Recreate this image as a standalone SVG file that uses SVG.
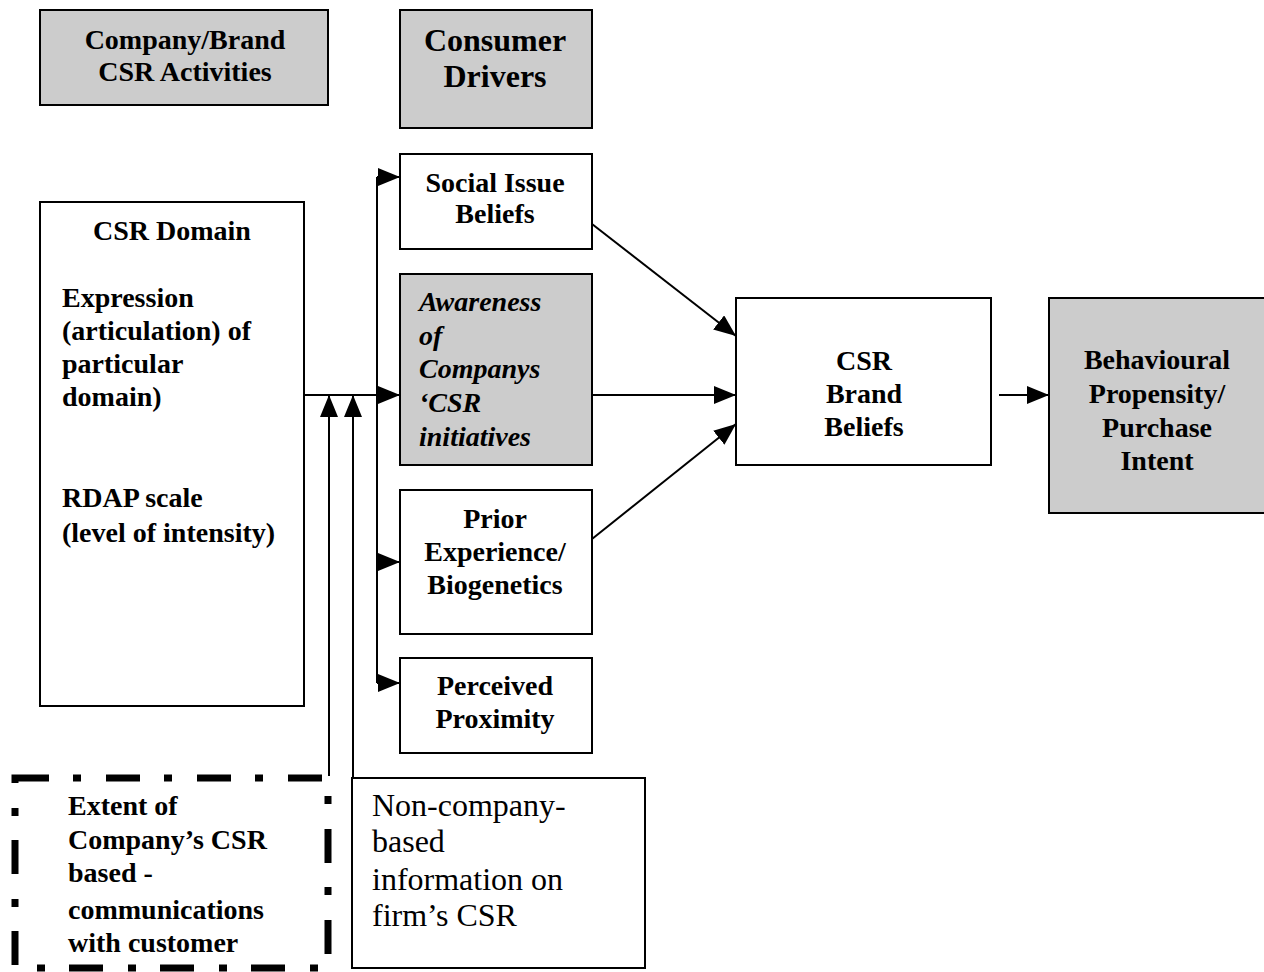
<svg xmlns="http://www.w3.org/2000/svg" width="1264" height="972" viewBox="0 0 1264 972">
<style>
.box{fill:#fff;stroke:#000;stroke-width:2}
.grey{fill:#cccccc;stroke:#000;stroke-width:2}
.t{font-family:"Liberation Serif","Times New Roman",serif;font-weight:bold;font-size:28px;fill:#000}
.c{text-anchor:middle}
.i{font-style:italic}
.r{font-weight:normal;font-size:32px}
.ln{stroke:#000;stroke-width:2;fill:none}
</style>
<defs>
<marker id="ah" markerWidth="22" markerHeight="18" refX="22" refY="9" orient="auto" markerUnits="userSpaceOnUse">
<path d="M0,0 L22,9 L0,18 Z" fill="#000"/>
</marker>
</defs>
<rect width="1264" height="972" fill="#fff"/>
<g id="company-brand">
<rect class="grey" x="40" y="10" width="288" height="95"/>
<text class="t c" x="185" y="49">Company/Brand</text>
<text class="t c" x="185" y="81">CSR Activities</text>
</g>
<g id="consumer-drivers">
<rect class="grey" x="400" y="10" width="192" height="118"/>
<text class="t c" x="495" y="51" style="font-size:32px">Consumer</text>
<text class="t c" x="495" y="87" style="font-size:32px">Drivers</text>
</g>
<g id="csr-domain">
<rect class="box" x="40" y="202" width="264" height="504"/>
<text class="t c" x="172" y="240">CSR Domain</text>
<text class="t" x="62" y="307">Expression</text>
<text class="t" x="62" y="340">(articulation) of</text>
<text class="t" x="62" y="373">particular</text>
<text class="t" x="62" y="406">domain)</text>
<text class="t" x="62" y="507">RDAP scale</text>
<text class="t" x="62" y="542">(level of intensity)</text>
</g>
<g id="social-issue">
<rect class="box" x="400" y="154" width="192" height="95"/>
<text class="t c" x="495" y="192">Social Issue</text>
<text class="t c" x="495" y="223">Beliefs</text>
</g>
<g id="awareness">
<rect class="grey" x="400" y="274" width="192" height="191"/>
<text class="t i" x="419" y="311">Awareness</text>
<text class="t i" x="419" y="345">of</text>
<text class="t i" x="419" y="378">Companys</text>
<text class="t i" x="419" y="412">‘CSR</text>
<text class="t i" x="419" y="446">initiatives</text>
</g>
<g id="prior-experience">
<rect class="box" x="400" y="490" width="192" height="144"/>
<text class="t c" x="495" y="528">Prior</text>
<text class="t c" x="495" y="561">Experience/</text>
<text class="t c" x="495" y="594">Biogenetics</text>
</g>
<g id="perceived-proximity">
<rect class="box" x="400" y="658" width="192" height="95"/>
<text class="t c" x="495" y="695">Perceived</text>
<text class="t c" x="495" y="728">Proximity</text>
</g>
<g id="csr-brand-beliefs">
<rect class="box" x="736" y="298" width="255" height="167"/>
<text class="t c" x="864" y="370">CSR</text>
<text class="t c" x="864" y="403">Brand</text>
<text class="t c" x="864" y="436">Beliefs</text>
</g>
<g id="behavioural">
<rect class="grey" x="1049" y="298" width="220" height="215"/>
<text class="t c" x="1157" y="369">Behavioural</text>
<text class="t c" x="1157" y="403">Propensity/</text>
<text class="t c" x="1157" y="437">Purchase</text>
<text class="t c" x="1157" y="470">Intent</text>
</g>
<g id="extent-communications">
<rect x="15" y="778" width="313" height="190" fill="none" stroke="#000" stroke-width="7" stroke-dasharray="34,24,8,25"/>
<text class="t" x="68" y="815">Extent of</text>
<text class="t" x="68" y="849">Company’s CSR</text>
<text class="t" x="68" y="882">based -</text>
<text class="t" x="68" y="919">communications</text>
<text class="t" x="68" y="952">with customer</text>
</g>
<g id="non-company">
<rect class="box" x="352" y="778" width="293" height="190"/>
<text class="t r" x="372" y="816">Non-company-</text>
<text class="t r" x="372" y="852">based</text>
<text class="t r" x="372" y="890">information on</text>
<text class="t r" x="372" y="926">firm’s CSR</text>
</g>
<g id="connectors">
<line class="ln" x1="304" y1="395" x2="400" y2="395" marker-end="url(#ah)"/>
<line class="ln" x1="377" y1="177" x2="377" y2="683"/>
<line class="ln" x1="377" y1="177" x2="400" y2="177" marker-end="url(#ah)"/>
<line class="ln" x1="377" y1="562" x2="400" y2="562" marker-end="url(#ah)"/>
<line class="ln" x1="377" y1="683" x2="400" y2="683" marker-end="url(#ah)"/>
<line class="ln" x1="329" y1="776" x2="329" y2="395" marker-end="url(#ah)"/>
<line class="ln" x1="353" y1="778" x2="353" y2="395" marker-end="url(#ah)"/>
<line class="ln" x1="592" y1="224" x2="736" y2="336" marker-end="url(#ah)"/>
<line class="ln" x1="592" y1="395" x2="736" y2="395" marker-end="url(#ah)"/>
<line class="ln" x1="592" y1="539" x2="736" y2="424" marker-end="url(#ah)"/>
<line class="ln" x1="999" y1="395" x2="1049" y2="395" marker-end="url(#ah)"/>
</g>
</svg>
